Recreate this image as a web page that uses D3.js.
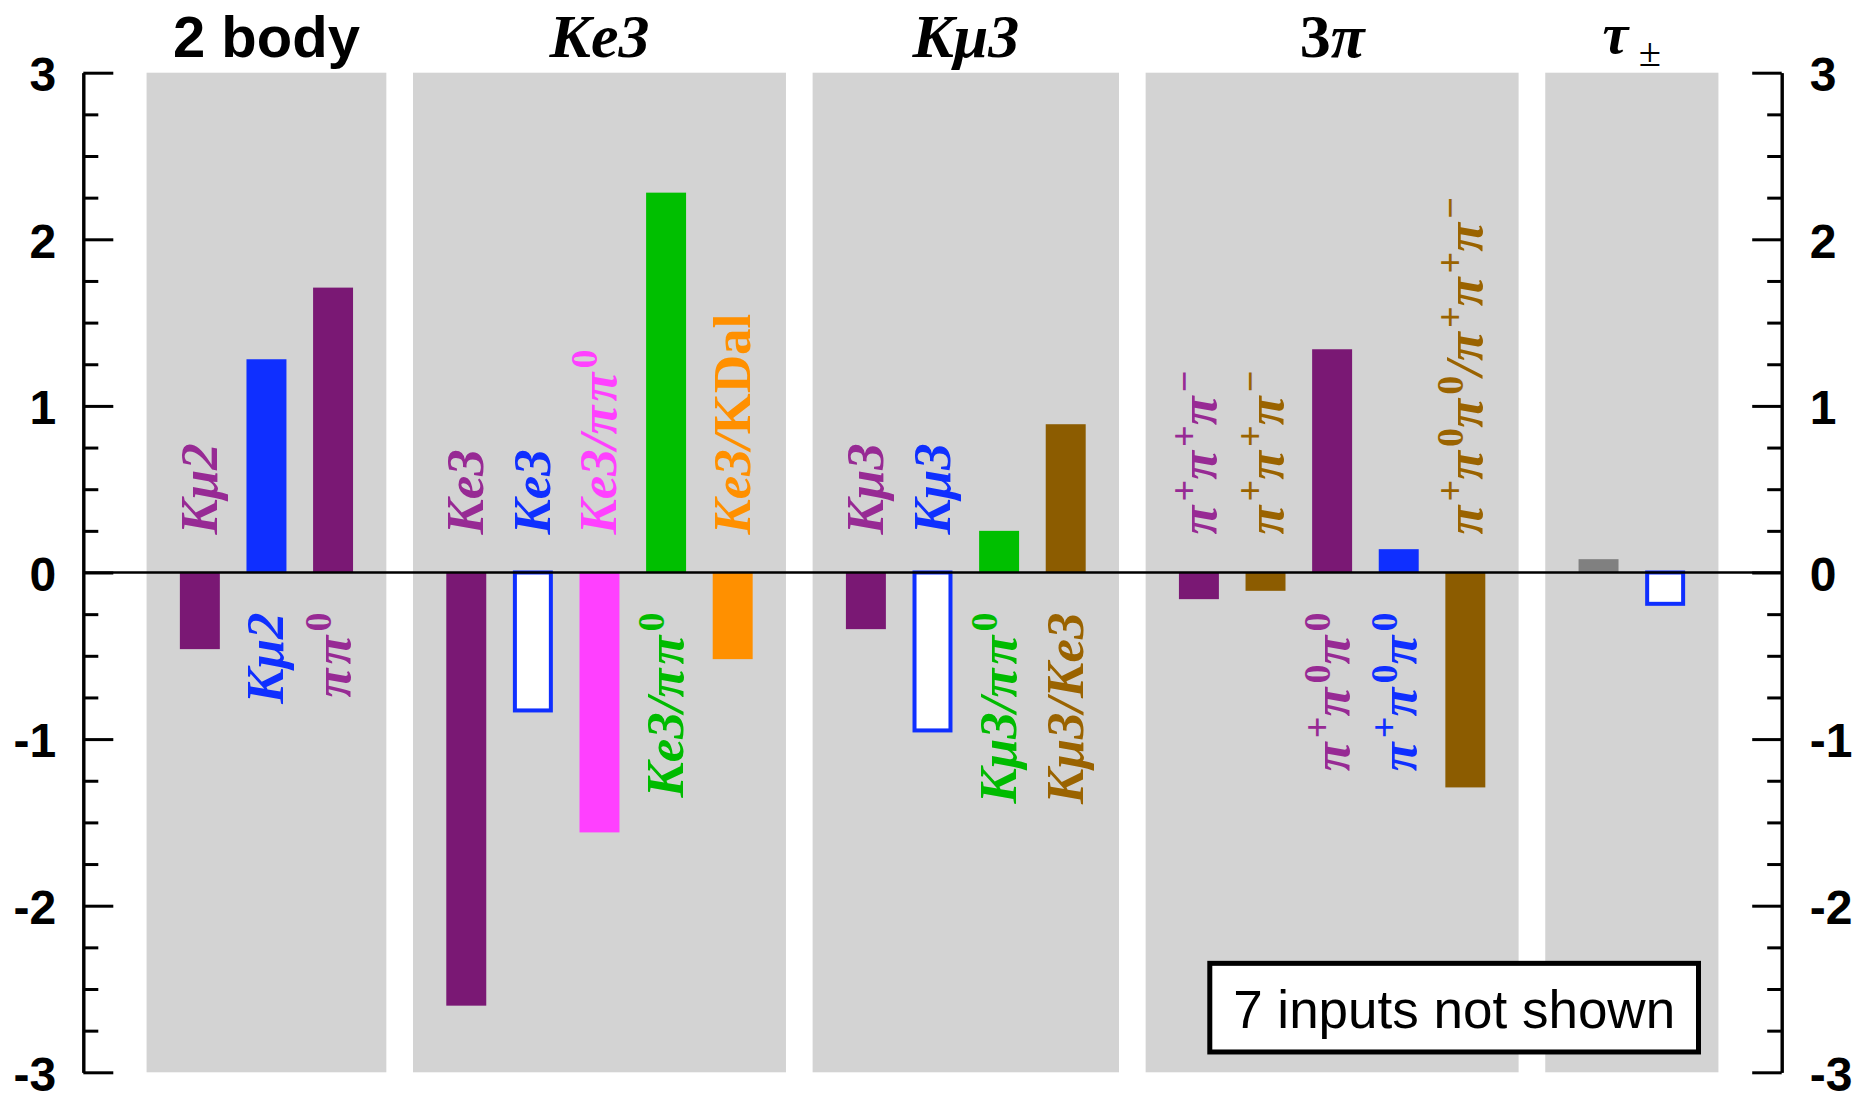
<!DOCTYPE html>
<html><head><meta charset="utf-8">
<script src="https://cdn.jsdelivr.net/npm/d3@7"></script>
<style>body{margin:0;background:#fff} svg{display:block}</style>
</head><body>
<script>
// ---------------- data ----------------
const groupTitles = ["2 body", "Ke3", "Kμ3", "[3]π", "τ_{±}"];
const groupSizes  = [3, 5, 4, 5, 2];
const labels = [
  "Kμ2", "Kμ2", "ππ^{0}",
  "Ke3", "Ke3", "Ke3/ππ^{0}", "Ke3/ππ^{0}", "Ke3/[KDal]",
  "Kμ3", "Kμ3", "Kμ3/ππ^{0}", "Kμ3/Ke3",
  "π^{+}π^{+}π^{−}", "π^{+}π^{+}π^{−}", "π^{+}π^{0}π^{0}", "π^{+}π^{0}π^{0}", "π^{+}π^{0}π^{0}/π^{+}π^{+}π^{−}",
  "", ""
];
const values = [
  -0.46, 1.28, 1.71,
  -2.60, -0.84, -1.56, 2.28, -0.52,
  -0.34, -0.96, 0.25, 0.89,
  -0.16, -0.11, 1.34, 0.14, -1.29,
  0.08, -0.20
];
const barColors = [
  "#7a1874", "#0f2fff", "#7a1874",
  "#7a1874", "#0f2fff", "#ff40ff", "#00bf00", "#ff9000",
  "#7a1874", "#0f2fff", "#00bf00", "#8c5c00",
  "#7a1874", "#8c5c00", "#7a1874", "#0f2fff", "#8c5c00",
  "#808080", "#0f2fff"
];
const labelColors = [
  "#972a94", "#0f2fff", "#972a94",
  "#972a94", "#0f2fff", "#ff40ff", "#00bb00", "#ff9000",
  "#972a94", "#0f2fff", "#00bb00", "#9a6300",
  "#972a94", "#9a6300", "#972a94", "#0f2fff", "#9a6300",
  "", ""
];
const hollow = [
  false, false, false,
  false, true, false, false, false,
  false, true, false, false,
  false, false, false, false, false,
  false, true
];
const yTickValues = [-3, -2, -1, 0, 1, 2, 3];
const yTickLabels = ["-3", "-2", "-1", "0", "1", "2", "3"];
const noteText = "7 inputs not shown";

// ---------------- layout ----------------
const W = 1865, H = 1094;
const svg = d3.select("body").append("svg").attr("width", W).attr("height", H);

const x = d3.scaleLinear().domain([-1.75, 23.75]).range([83.3, 1781.7]);
const y = d3.scaleLinear().domain([-3, 3]).range([1072.3, 72.7]);

// slot positions: items consecutive, one empty slot between groups
const slot = [], grp = [];
{ let k = 0; groupSizes.forEach((n, g) => { for (let i = 0; i < n; i++) { slot.push(k + g); grp.push(g); k++; } }); }

const SERIF = "'Liberation Serif','DejaVu Serif',serif";
const SANS = "'Liberation Sans',Arial,sans-serif";

// rich text: ^{..} superscript, _{..} subscript, [..] upright, else italic
function rich(textSel, str, size, piSpacing) {
  const re = /\^\{([^}]*)\}|_\{([^}]*)\}|\[([^\]]*)\]|([^\^_\[]+)/g;
  let m, shift = 0;
  const add = (t, fs, style, weight, dy, dx, ls) => {
    textSel.append("tspan").text(t)
      .attr("font-size", fs).attr("font-style", style).attr("font-weight", weight)
      .attr("dy", dy || null).attr("dx", dx || null)
      .style("letter-spacing", ls ? ls + "px" : null);
  };
  while ((m = re.exec(str)) !== null) {
    let t, fs = size, target = 0, style = "italic", weight = "bold", dx = 0;
    if (m[1] !== undefined) { t = m[1]; fs = size * 0.72; target = -0.36 * size; style = "normal"; }
    else if (m[2] !== undefined) { t = m[2]; fs = size * 0.7; target = 0.22 * size; style = "normal"; weight = "normal"; dx = 0.18 * size; }
    else if (m[3] !== undefined) { t = m[3]; style = "normal"; }
    else { t = m[4]; }
    if (m[4] !== undefined && piSpacing) {
      const parts = t.split(/(π+)/).filter(s => s.length);
      parts.forEach((pt, j) => {
        add(pt, fs, style, weight, j === 0 ? target - shift : 0, 0, pt[0] === "π" ? piSpacing : 0);
      });
    } else {
      add(t, fs, style, weight, target - shift, dx, 0);
    }
    shift = target;
  }
}

// panels
const panels = groupTitles.map((t, g) => {
  const s = slot.filter((_, i) => grp[i] === g);
  return { g, t, x0: x(d3.min(s) - 0.8), x1: x(d3.max(s) + 0.8) };
});
svg.append("g").selectAll("rect").data(panels).join("rect")
  .attr("x", d => d.x0).attr("width", d => d.x1 - d.x0)
  .attr("y", y(3)).attr("height", y(-3) - y(3))
  .attr("fill", "#d3d3d3");

// titles
panels.forEach(p => {
  const cx = (p.x0 + p.x1) / 2;
  if (p.g === 0) {
    svg.append("text").attr("x", cx).attr("y", 57).attr("text-anchor", "middle")
      .attr("font-family", SANS).attr("font-weight", "bold").attr("font-size", 58)
      .attr("fill", "#000").text(p.t);
  } else {
    const fs = p.g === 4 ? 58 : 62;
    const t = svg.append("text").attr("x", cx).attr("y", p.g === 4 ? 53 : 57)
      .attr("text-anchor", "middle").attr("font-family", SERIF).attr("fill", "#000");
    rich(t, p.t, fs, 0);
  }
});

// bars
const bw = 0.3;
values.forEach((v, i) => {
  const s = slot[i];
  const xl = x(s - bw), xr = x(s + bw);
  const yt = y(Math.max(v, 0)), yb = y(Math.min(v, 0));
  if (hollow[i]) {
    const sw = 4;
    svg.append("rect").attr("x", xl + sw / 2).attr("width", xr - xl - sw)
      .attr("y", yt).attr("height", yb - yt - sw / 2)
      .attr("fill", "#fff").attr("stroke", barColors[i]).attr("stroke-width", sw);
  } else {
    svg.append("rect").attr("x", xl).attr("width", xr - xl)
      .attr("y", yt).attr("height", yb - yt).attr("fill", barColors[i]);
  }
});

// rotated labels, on the opposite side of zero from the bar
const LFS = 53;
labels.forEach((lab, i) => {
  if (!lab) return;
  const v = values[i];
  const upper = v < 0;
  const t = svg.append("text")
    .attr("transform", `translate(${x(slot[i])},${y(0) + (upper ? -38 : 40)}) rotate(-90)`)
    .attr("y", 17)
    .attr("text-anchor", upper ? "start" : "end")
    .attr("font-family", SERIF).attr("fill", labelColors[i]);
  rich(t, lab, LFS, 4);
});

// zero line
svg.append("line").attr("x1", x(-1.75)).attr("x2", x(23.75))
  .attr("y1", y(0)).attr("y2", y(0)).attr("stroke", "#000").attr("stroke-width", 2.5);

// axes
const minorVals = d3.range(-3, 3.001, 0.25).filter(v => Math.abs(v - Math.round(v)) > 1e-6);
function styleAxis(g) {
  g.selectAll("path,line").attr("stroke", "#000").attr("stroke-width", 3);
  g.selectAll("text").attr("font-family", SANS).attr("font-weight", "bold")
    .attr("font-size", 48).attr("fill", "#000").attr("dy", "0.37em");
}
const fmt = d => yTickLabels[yTickValues.indexOf(d)];
svg.append("g").attr("transform", `translate(${x(-1.75)},0)`)
  .call(d3.axisLeft(y).tickValues(yTickValues).tickFormat(fmt).tickSizeInner(-30).tickSizeOuter(0).tickPadding(27))
  .call(styleAxis);
svg.append("g").attr("transform", `translate(${x(-1.75)},0)`)
  .call(d3.axisLeft(y).tickValues(minorVals).tickFormat("").tickSizeInner(-15).tickSizeOuter(0))
  .call(styleAxis);
svg.append("g").attr("transform", `translate(${x(23.75)},0)`)
  .call(d3.axisRight(y).tickValues(yTickValues).tickFormat(fmt).tickSizeInner(-29.5).tickSizeOuter(0).tickPadding(28))
  .call(styleAxis);
svg.append("g").attr("transform", `translate(${x(23.75)},0)`)
  .call(d3.axisRight(y).tickValues(minorVals).tickFormat("").tickSizeInner(-14.5).tickSizeOuter(0))
  .call(styleAxis);

// note box
const bx0 = 1209.8, bx1 = 1698.5, by0 = y(-2.346), by1 = y(-2.878);
svg.append("rect").attr("x", bx0).attr("y", by0).attr("width", bx1 - bx0).attr("height", by1 - by0)
  .attr("fill", "#fff").attr("stroke", "#000").attr("stroke-width", 5);
svg.append("text").attr("x", (bx0 + bx1) / 2).attr("y", 1027.5).attr("text-anchor", "middle")
  .attr("font-family", SANS).attr("font-size", 53).attr("fill", "#000").text(noteText);
</script>
</body></html>
